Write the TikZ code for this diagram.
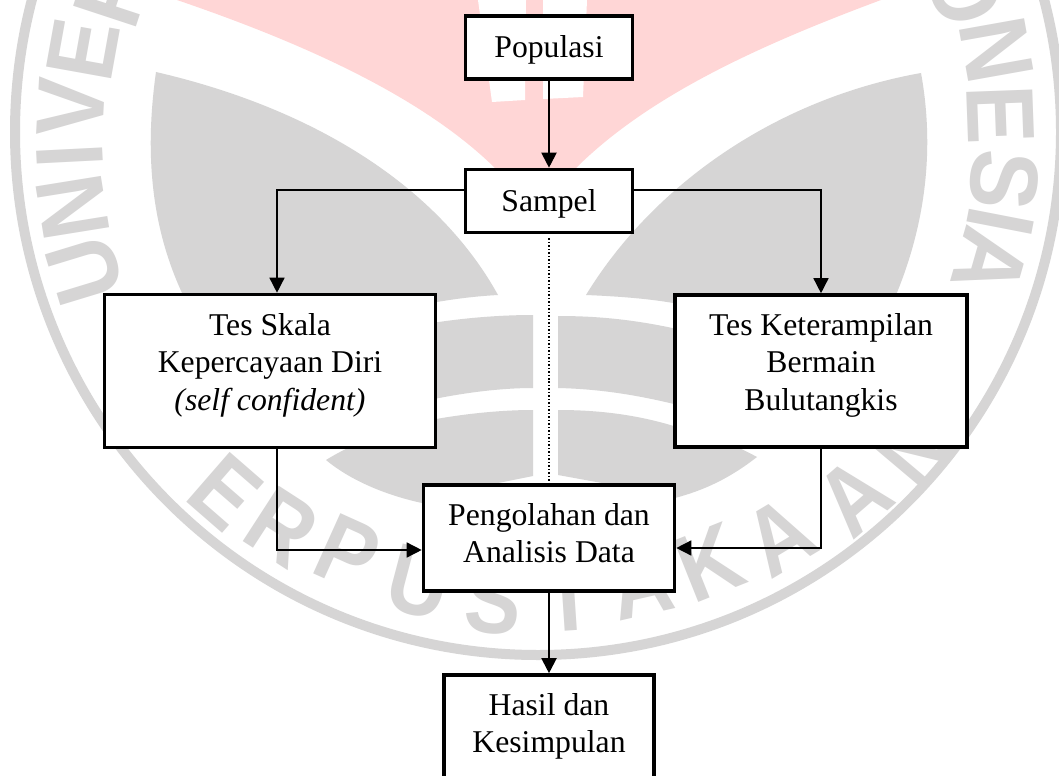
\documentclass[tikz,border=0pt]{standalone}
\usepackage{fontspec}
\setmainfont{Liberation Serif}
\newfontfamily\wmfont{Liberation Sans}[Scale=1]
\usetikzlibrary{arrows.meta,calc}
\definecolor{wmgray}{HTML}{D6D5D5}
\definecolor{wmpink}{HTML}{FFD6D6}
\newcommand{\boxlines}[2]{\raisebox{#1bp}[0pt][0pt]{\begin{tabular}[t]{@{}c@{}}#2\end{tabular}}}
\tikzset{
  x=1bp,y=-1bp,
  flowbox/.style={draw=black,fill=white,line width=3.6bp,inner sep=0pt,
    font=\fontsize{31.7bp}{37.6bp}\selectfont},
  thinlink/.style={draw=black,line width=1.5bp,-{Triangle[length=15bp,width=15bp]}},
  thicklink/.style={draw=black,line width=2bp,-{Triangle[length=15bp,width=15bp]}},
  wmletter/.style={text=wmgray,font=\wmfont\bfseries\fontsize{96bp}{96bp}\selectfont,inner sep=0pt},
}
\begin{document}
\begin{tikzpicture}
\useasboundingbox (0,0) rectangle (1059,776);
\fill[white] (0,0) rectangle (1059,776);
\begin{scope}
\clip (0,0) rectangle (1059,776);
% ring
\draw[wmgray,line width=10bp] (538,132) circle[radius=523];
% pink lens
\fill[wmpink] (177,0) .. controls (300,42) and (420,95) .. (494,167)
  -- (535,212) -- (577,167) .. controls (650,95) and (760,45) .. (881,0) -- cycle;
\fill[white] (478,0) -- (526,0) -- (525,100) -- (492,102) -- cycle;
\fill[white] (543,0) -- (587,0) -- (583,97) -- (543,99) -- cycle;
% grey blades
\fill[wmgray] (156,72) .. controls (145,150) and (150,225) .. (183,295)
  -- (300,320) -- (437,302) .. controls (460,298) and (480,296) .. (498,295)
  .. controls (440,190) and (320,110) .. (156,72) -- cycle;
\fill[wmgray] (921,73) .. controls (935,150) and (925,225) .. (896,295)
  -- (780,320) -- (673,303) .. controls (645,298) and (610,296) .. (586,295)
  .. controls (650,190) and (770,100) .. (921,73) -- cycle;
% grey bands
\fill[wmgray] (420,325) .. controls (460,318) and (500,315) .. (533,315) -- (533,388)
  .. controls (500,388) and (460,393) .. (420,402) -- cycle;
\fill[wmgray] (558,316) .. controls (600,316) and (640,320) .. (690,332) -- (690,408)
  .. controls (640,395) and (600,389) .. (558,388) -- cycle;
\fill[wmgray] (420,422) .. controls (460,414) and (500,410) .. (533,410) -- (533,476)
  -- (498,483) -- (470,495) -- (422,503) .. controls (385,495) and (350,480) .. (326,460)
  .. controls (355,442) and (390,430) .. (420,422) -- cycle;
\fill[wmgray] (558,410) .. controls (600,410) and (640,415) .. (680,428)
  .. controls (710,435) and (735,445) .. (757,457)
  .. controls (730,478) and (705,490) .. (675,498) -- (640,495) -- (602,483) -- (558,475) -- cycle;
% ring letters
\foreach \ltr/\lx/\ly [count=\li] in {
  U/85/270, N/73/207, I/70/156, V/71/107, E/83/50, R/113/-8,
  O/965/-10, N/997/50, E/1001/115, S/1004/180, I/1001/222, A/990/262}{
  \pgfmathsetmacro\lrot{atan2(-(\lx-538),-(\ly-132))}
  \node[wmletter,rotate=\lrot,xscale=.92] (wma\li) at (\lx,\ly) {\ltr};
}
\foreach \ltr/\lx/\ly [count=\li] in {
  E/225/492, R/282/527, P/348/553, U/419/583, S/494/600, T/569/598,
  A/641/583, K/710/563, A/780/537, A/854/497, N/915/450}{
  \pgfmathsetmacro\lrot{atan2(\lx-538,\ly-132)}
  \node[wmletter,rotate=\lrot,xscale=.88] (wmb\li) at (\lx,\ly) {\ltr};
}
\end{scope}
% flow boxes
\node[flowbox,minimum width=167bp,minimum height=63bp] (pop) at (549,47.7) {\boxlines{-10.3}{Populasi}};
\node[flowbox,minimum width=167bp,minimum height=63bp] (sam) at (549,201) {\boxlines{-10}{Sampel}};
\node[flowbox,minimum width=331bp,minimum height=153bp] (skala) at (270,371) {\boxlines{36}{Tes Skala\\Kepercayaan Diri\\\textit{(self confident)}}};
\node[flowbox,minimum width=292bp,minimum height=152bp] (ket) at (821,371) {\boxlines{36}{Tes Keterampilan\\Bermain\\Bulutangkis}};
\node[flowbox,minimum width=251bp,minimum height=106bp] (olah) at (549,538) {\boxlines{13}{Pengolahan dan\\Analisis Data}};
\node[flowbox,minimum width=210bp,minimum height=120bp] (hasil) at (549,735) {\boxlines{20}{Hasil dan\\Kesimpulan}};
% connectors
\coordinate (sl) at (277,190);
\coordinate (sr) at (821,190);
\coordinate (cl) at (277,550);
\coordinate (cr) at (821,548);
\draw[thicklink] (pop.south) -- (sam.north);
\draw[thinlink] (sam.west |- sl) -- (sl) -- (sl |- skala.north);
\draw[thinlink] (sam.east |- sr) -- (sr) -- (sr |- ket.north);
\draw[thinlink] (cl |- skala.south) -- (cl) -- (cl -| olah.west);
\draw[thinlink] (cr |- ket.south) -- (cr) -- (cr -| olah.east);
\draw[thicklink] (olah.south) -- (hasil.north);
\draw[black,line width=1.5bp,dotted] ($(sam.south)+(0,4)$) -- (olah.north);
\end{tikzpicture}
\end{document}
